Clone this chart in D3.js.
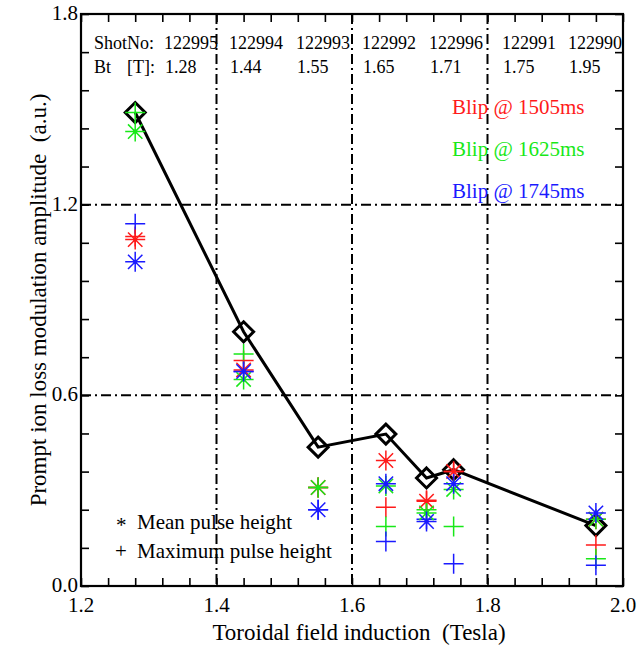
<!DOCTYPE html>
<html><head><meta charset="utf-8">
<script src="https://cdn.jsdelivr.net/npm/d3@7"></script>
<style>
html,body{margin:0;padding:0;background:#fff;}
</style></head>
<body><svg id="chart" width="642" height="648"></svg>
<script>
// ---- data ----
const fieldT = [1.28, 1.44, 1.55, 1.65, 1.71, 1.75, 1.96];
const overall = [1.49, 0.80, 0.437, 0.478, 0.34, 0.366, 0.19];
const meanRed = [1.09, 0.68, 0.31, 0.395, 0.267, 0.36, 0.21];
const meanGreen = [1.43, 0.65, 0.31, 0.315, 0.23, 0.304, 0.21];
const meanBlue = [1.02, 0.675, 0.24, 0.322, 0.203, 0.322, 0.23];
const maxRed = [1.10, 0.71, 0.31, 0.248, 0.27, 0.36, 0.129];
const maxGreen = [1.49, 0.73, 0.31, 0.187, 0.24, 0.187, 0.086];
const maxBlue = [1.14, 0.675, 0.24, 0.14, 0.21, 0.07, 0.065];
const shotNos = ["122995", "122994", "122993", "122992", "122996", "122991", "122990"];
const btLabels = ["1.28", "1.44", "1.55", "1.65", "1.71", "1.75", "1.95"];
const blipLabels = ["Blip @ 1505ms", "Blip @ 1625ms", "Blip @ 1745ms"];
const xTickLabels = ["1.2", "1.4", "1.6", "1.8", "2.0"];
const yTickLabels = ["0.0", "0.6", "1.2", "1.8"];

const RED = "#ff1a1a", GREEN = "#18e818", BLUE = "#1a1aff";

const svg = d3.select("#chart");
const L = 81, R = 623, T = 14, B = 586;
const x = d3.scaleLinear().domain([1.2, 2.0]).range([L, R]);
const y = d3.scaleLinear().domain([0, 1.8]).range([B, T]);

const xMinor = d3.range(0, 21).map(i => 1.2 + i * 0.04);
const yMinor = d3.range(0, 16).map(i => i * 0.12);

function setFont(sel, size) {
  return sel.attr("font-family", "Liberation Serif").attr("font-size", size)
    .style("font-family", '"Liberation Serif"');
}
function txt(parent, s, px, py, size, col) {
  return setFont(parent.append("text").attr("x", px).attr("y", py), size)
    .attr("fill", col || "#000").text(s);
}

// ---- grid (dash-dot) ----
const grid = svg.append("g").attr("stroke", "#000").attr("stroke-width", 2)
  .attr("stroke-dasharray", "10,4,2,4").attr("fill", "none");
[1.4, 1.6, 1.8].forEach(v => grid.append("line").attr("x1", x(v)).attr("x2", x(v)).attr("y1", T).attr("y2", B));
[0.6, 1.2].forEach(v => grid.append("line").attr("x1", L).attr("x2", R).attr("y1", y(v)).attr("y2", y(v)));

// ---- axes (ticks only; labels drawn as plain text) ----
const styleAxis = g => {
  g.select(".domain").remove();
  g.selectAll(".tick text").remove();
  g.selectAll(".tick line").attr("stroke", "#000").attr("stroke-width", 1.6);
};
svg.append("g").attr("transform", `translate(0,${B})`)
  .call(d3.axisBottom(x).tickValues(xMinor).tickSize(-8)).call(styleAxis);
svg.append("g").attr("transform", `translate(0,${T})`)
  .call(d3.axisTop(x).tickValues(xMinor).tickSize(-8)).call(styleAxis);
svg.append("g").attr("transform", `translate(${L},0)`)
  .call(d3.axisLeft(y).tickValues(yMinor).tickSize(-8)).call(styleAxis);
svg.append("g").attr("transform", `translate(${R},0)`)
  .call(d3.axisRight(y).tickValues(yMinor).tickSize(-8)).call(styleAxis);
svg.append("rect").attr("x", L).attr("y", T).attr("width", R - L).attr("height", B - T)
  .attr("fill", "none").attr("stroke", "#000").attr("stroke-width", 2.2);

xTickLabels.forEach(s => txt(svg, s, x(+s), 612, 21).attr("text-anchor", "middle"));
yTickLabels.forEach(s => txt(svg, s, L - 3, y(+s) + 6, 21).attr("text-anchor", "end"));

// ---- axis titles ----
txt(svg, "Toroidal field induction\u00a0\u00a0(Tesla)", 359, 640, 23).attr("text-anchor", "middle");
txt(svg, "Prompt ion loss modulation amplitude\u00a0\u00a0(a.u.)", 0, 0, 23)
  .attr("transform", "translate(46,300) rotate(-90)").attr("text-anchor", "middle");

// ---- header text ----
const shotX = [164, 229, 296, 362, 429, 502, 568];
txt(svg, "ShotNo:", 94, 49, 18);
txt(svg, "Bt", 94, 73, 18);
txt(svg, "[T]:", 127, 73, 18);
shotNos.forEach((s, i) => txt(svg, s, shotX[i], 49, 18));
btLabels.forEach((s, i) => txt(svg, s, shotX[i] + 1, 73, 18));

// ---- blip legend ----
const blipCol = [RED, GREEN, BLUE];
blipLabels.forEach((s, i) => txt(svg, s, 452, 114 + i * 42, 21, blipCol[i]));

// ---- marker legend ----
txt(svg, "*", 116, 532, 21);
txt(svg, "Mean pulse height", 137, 529, 21);
txt(svg, "+", 115, 558, 21);
txt(svg, "Maximum pulse height", 137, 558, 21);

// ---- connecting line + diamonds ----
const pts = fieldT.map((t, i) => [t, overall[i]]);
svg.append("path").datum(pts)
  .attr("d", d3.line().x(d => x(d[0])).y(d => y(d[1])))
  .attr("fill", "none").attr("stroke", "#000").attr("stroke-width", 3);
svg.selectAll("path.dia").data(pts).enter().append("path").attr("class", "dia")
  .attr("transform", d => `translate(${x(d[0])},${y(d[1])})`)
  .attr("d", "M0,-10L10,0L0,10L-10,0Z")
  .attr("fill", "none").attr("stroke", "#000").attr("stroke-width", 3);

// ---- colored markers ----
const rs = 10;
function stars(vals, col) {
  const g = svg.append("g").attr("stroke", col).attr("stroke-width", 1.5).attr("fill", col);
  vals.forEach((v, i) => {
    const cx = x(fieldT[i]), cy = y(v), d = rs * 0.72;
    g.append("path").attr("d",
      `M${cx - rs},${cy}H${cx + rs}M${cx},${cy - rs}V${cy + rs}` +
      `M${cx - d},${cy - d}L${cx + d},${cy + d}M${cx - d},${cy + d}L${cx + d},${cy - d}`);
    g.append("circle").attr("cx", cx).attr("cy", cy).attr("r", 2).attr("stroke", "none");
  });
}
function pluses(vals, col) {
  const g = svg.append("g").attr("stroke", col).attr("stroke-width", 1.5);
  vals.forEach((v, i) => {
    const cx = x(fieldT[i]), cy = y(v);
    g.append("path").attr("d", `M${cx - rs},${cy}H${cx + rs}M${cx},${cy - rs}V${cy + rs}`);
  });
}
pluses(maxRed, RED); pluses(maxGreen, GREEN); pluses(maxBlue, BLUE);
stars(meanRed, RED); stars(meanGreen, GREEN); stars(meanBlue, BLUE);
</script></body></html>
